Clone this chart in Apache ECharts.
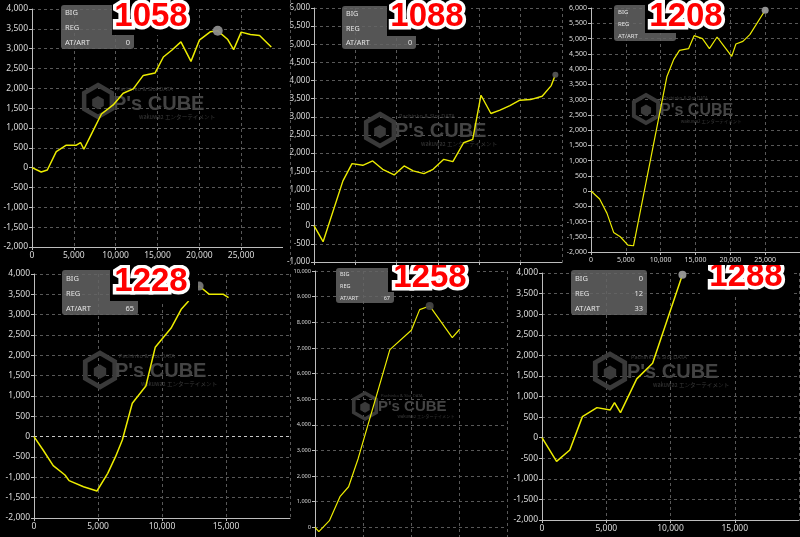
<!DOCTYPE html>
<html><head><meta charset="utf-8">
<script src="https://cdn.jsdelivr.net/npm/echarts@6/dist/echarts.min.js"></script>
<style>
html,body{margin:0;padding:0;background:#000;width:800px;height:537px;overflow:hidden}
body{position:relative}
.p{position:absolute;overflow:hidden;background:#000}
</style></head><body>
<div id="c0" class="p" style="left:0;top:0;width:283px;height:265px"></div>
<div id="c1" class="p" style="left:283px;top:0;width:284px;height:265px"></div>
<div id="c2" class="p" style="left:567px;top:0;width:233px;height:265px"></div>
<div id="c3" class="p" style="left:0;top:265px;width:291px;height:272px"></div>
<div id="c4" class="p" style="left:291px;top:265px;width:219px;height:272px"></div>
<div id="c5" class="p" style="left:510px;top:265px;width:290px;height:272px"></div>
<script>
// ---------- DATA ----------
const machineNo = ['1058','1088','1208','1228','1258','1288'];
const infoLabels = ['BIG','REG','AT/ART'];
const infoValues = [['','','0'],['','','0'],['','',''],['','','65'],['','','67'],['0','12','33']];

const p1058X = [0,1100,1830,2900,4100,5300,5800,6200,7100,8300,9700,10900,12100,13300,14700,15700,16700,17800,19000,20000,21300,22200,23400,24100,25000,26100,27200,28600];
const p1058Y = [0,-110,-60,406,567,567,634,465,846,1353,1581,1877,1987,2326,2385,2790,2960,3171,2680,3213,3425,3450,3230,2977,3417,3357,3332,3044];

const p1088X = [0,1100,3500,4600,5900,7100,8300,9700,10900,12000,13300,14400,15700,16800,18100,19200,20200,21400,22500,23700,24900,26200,27600,28700,29200];
const p1088Y = [0,-440,1235,1711,1665,1784,1555,1400,1647,1510,1436,1555,1830,1766,2287,2379,3596,3092,3184,3312,3458,3477,3568,3861,4163];

const p1208X = [0,1240,2300,3250,4200,5300,6100,10900,11900,12700,14000,14800,16000,17000,18100,19000,20200,20800,21800,22800,25000];
const p1208Y = [0,-263,-734,-1358,-1500,-1774,-1796,3757,4326,4611,4666,5093,4995,4666,5049,4775,4414,4819,4907,5126,5925];

const p1228X = [0,710,1500,2420,2740,3870,4920,5760,6370,6900,7680,8740,9470,10700,11500,12030,12900,13700,14800,15200];
const p1228Y = [0,-328,-713,-943,-1082,-1230,-1336,-902,-492,-82,820,1246,2197,2664,3131,3320,3705,3500,3500,3418];

const p1258X = [0,400,1500,2600,3500,4500,7800,10035,10900,11944,14300,15070];
const p1258Y = [0,-169,260,1195,1584,2688,6935,7688,8494,8636,7403,7727];

const p1288X = [0,1134,2165,3144,4278,5309,5644,6108,7371,8608,10928];
const p1288Y = [0,-576,-300,511,730,673,852,608,1428,1809,3960];

const seriesX = [p1058X,p1088X,p1208X,p1228X,p1258X,p1288X];
const seriesY = [p1058Y,p1088Y,p1208Y,p1228Y,p1258Y,p1288Y];
const markIndex = [21, 24, 20, 16, 9, 10];

const yMin = [-2000,-1000,-2000,-2000,-1000,-2000];
const yMax = [4000,6000,6000,4000,10000,4000];
const yStep = [500,500,500,500,1000,500];
const xMin = [0,0,0,0,0,0];
const xMax = [30000,30000,30000,20000,20000,20000];
const xStep = [5000,5000,5000,5000,5000,5000];

// ---------- LAYOUT / STYLE ----------
const L = [
  {grid:[32,9,251,238], fs:8.5, lw:1.5, info:[61,5,73,44,7.5], red:[151,17], cover:[112,0,84,35], wm:[98,101,16,113,104,20], dot:['#8c8c8c',10]},
  {grid:[31,8,248,254], fs:8, lw:1.4, info:[59,6,74,43,7.2], red:[144,17], cover:[104,0,84,36], wm:[97,130,16,112,131,20], dot:['#555',6]},
  {grid:[24,8,209,244], fs:7, lw:1.2, info:[47,5,62,36,6], red:[119,17], cover:[78,0,84,33], wm:[79,109,14,93,111,16], dot:['#999',7]},
  {grid:[34,9,256,244], fs:8.5, lw:1.5, info:[62,5,76,45,7.5], red:[151,17], cover:[110,0,88,36], wm:[100,105,17,115,106,20], dot:['#777',9]},
  {grid:[24,6,192,282], fs:5.6, lw:1.2, info:[45,3,58,35,5.5], red:[139,13], cover:[97,0,86,27], wm:[74,141,13,87,142,15], dot:['#444',8]},
  {grid:[32,8,257,247], fs:8.5, lw:1.5, info:[61,5,76,45,7.5], red:[236,12], cover:[190,0,94,32], wm:[100,106,17,117,107,20], dot:['#999',8]}
];

function fmt(v){ return v.toLocaleString('en-US'); }

function hexPts(cx,cy,r){
  const pts=[];
  for(let i=0;i<6;i++){const a=(-90+60*i)*Math.PI/180;pts.push([cx+r*Math.cos(a),cy+r*Math.sin(a)]);}
  return pts;
}

function build(i){
  const g = L[i];
  const data = seriesX[i].map((x,k)=>[x, seriesY[i][k]]);
  const mk = markIndex[i];
  const els = [];
  // watermark
  const w = g.wm;
  els.push({type:'polygon', z:1, shape:{points:hexPts(w[0],w[1],w[2])}, style:{fill:'none', stroke:'#3a3a3a', lineWidth:w[2]*0.28}});
  els.push({type:'polygon', z:1, shape:{points:hexPts(w[0],w[1]+w[2]*0.1,w[2]*0.42)}, style:{fill:'#3a3a3a'}});
  els.push({type:'text', z:1, style:{text:"P's CUBE", x:w[3], y:w[4], fill:'#444', fontSize:w[5], fontWeight:'bold', fontFamily:'Liberation Sans', textVerticalAlign:'middle'}});
  els.push({type:'text', z:1, style:{text:'Pachinko & Slot DATA', x:w[3]+w[5]*0.2, y:w[4]-w[5]*0.75, fill:'#3a3a3a', fontSize:w[5]*0.28, fontFamily:'Noto Sans', textVerticalAlign:'middle'}});
  els.push({type:'text', z:1, style:{text:'wakuwa2 エンターテイメント', x:w[3]+w[5]*1.3, y:w[4]+w[5]*0.65, fill:'#3a3a3a', fontSize:w[5]*0.28, fontFamily:'Noto Sans CJK JP', textVerticalAlign:'middle'}});
  // info box
  const b = g.info;
  els.push({type:'rect', z:50, shape:{x:b[0], y:b[1], width:b[2], height:b[3], r:3}, style:{fill:'rgba(100,100,100,0.85)'}});
  for(let r=0;r<3;r++){
    const yy = b[1] + b[3]*(r+0.5)/3 + 1;
    els.push({type:'text', z:51, style:{text:infoLabels[r], x:b[0]+4, y:yy, fill:'#e6e6e6', fontSize:b[4], fontFamily:'Noto Sans', textVerticalAlign:'middle'}});
    if(infoValues[i][r]!=='') els.push({type:'text', z:51, style:{text:infoValues[i][r], x:b[0]+b[2]-4, y:yy, fill:'#e6e6e6', fontSize:b[4], fontFamily:'Noto Sans', textAlign:'right', textVerticalAlign:'middle'}});
  }
  // cover + red number
  const c = g.cover;
  els.push({type:'rect', z:90, shape:{x:c[0], y:c[1], width:c[2], height:c[3]}, style:{fill:'#000'}});
  els.push({type:'text', z:91, style:{text:machineNo[i], x:g.red[0], y:g.red[1], fill:'#fff', stroke:'#fff', lineWidth:7, lineJoin:'round', fontSize:33, fontWeight:'bold', fontFamily:'Liberation Sans', textAlign:'center', textVerticalAlign:'middle'}});
  els.push({type:'text', z:92, style:{text:machineNo[i], x:g.red[0], y:g.red[1], fill:'#ff0000', fontSize:33, fontWeight:'bold', fontFamily:'Liberation Sans', textAlign:'center', textVerticalAlign:'middle'}});
  if(i===1){
    els.push({type:'line', z:2, shape:{x1:7.5,y1:0,x2:7.5,y2:265}, style:{stroke:'#555', lineWidth:1, lineDash:[3,3]}});
  }
  const axisCommon = {
    axisLine:{show:true, onZero:false, lineStyle:{color:'#bdbdbd', width:1}},
    axisTick:{show:true, length:3, lineStyle:{color:'#bdbdbd'}},
    splitLine:{show:true, lineStyle:{color:'#585858', width:1, type:[3,3]}}
  };
  const series = [
    {type:'line', data:data, symbol:'none', z:5, lineStyle:{color:'#ecec00', width:g.lw}, animation:false},
    {type:'scatter', data:[[seriesX[i][mk], seriesY[i][mk]]], symbol:'circle', symbolSize:g.dot[1], z:6, itemStyle:{color:g.dot[0], opacity:0.95}, animation:false}
  ];
  if(i===3){
    series[0].markLine = {silent:true, symbol:'none', label:{show:false}, lineStyle:{color:'#c8c8c8', type:[3,3], width:1}, data:[{yAxis:0}]};
  }
  return {
    backgroundColor:'#000',
    animation:false,
    grid:{left:g.grid[0], top:g.grid[1], width:g.grid[2], height:g.grid[3], containLabel:false, outerBoundsMode:'none'},
    xAxis:Object.assign({type:'value', min:xMin[i], max:xMax[i], interval:xStep[i],
      axisLabel:{color:'#dcdcdc', fontSize:g.fs, fontFamily:'Noto Sans', margin:4, showMaxLabel:false, formatter:fmt}}, axisCommon),
    yAxis:Object.assign({type:'value', min:yMin[i], max:yMax[i], interval:yStep[i],
      axisLabel:{color:'#dcdcdc', fontSize:g.fs, fontFamily:'Noto Sans', margin:4, formatter:fmt}}, axisCommon),
    series:series,
    graphic:{elements:els}
  };
}

for(let i=0;i<6;i++){
  const ch = echarts.init(document.getElementById('c'+i), null, {renderer:'canvas'});
  ch.setOption(build(i));
}
</script>
</body></html>
